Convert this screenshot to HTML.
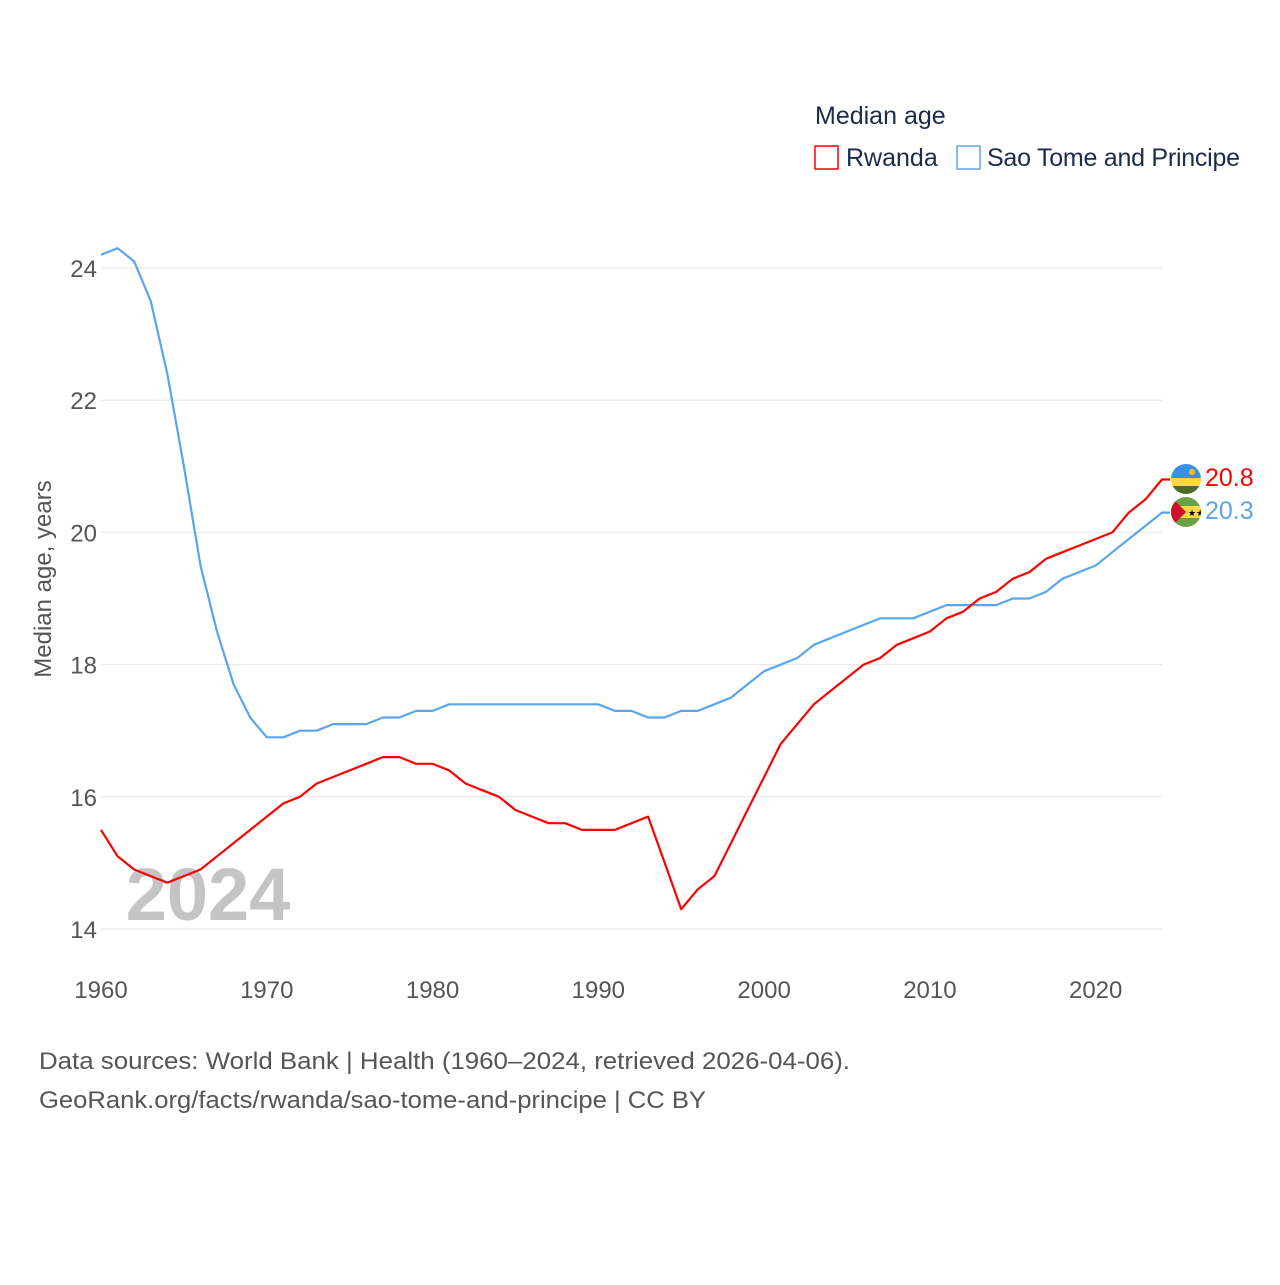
<!DOCTYPE html>
<html><head><meta charset="utf-8"><style>
body{margin:0;background:#fff;font-family:"Liberation Sans",sans-serif}
</style></head><body>
<svg width="1280" height="1280" viewBox="0 0 1280 1280" xmlns="http://www.w3.org/2000/svg" font-family="Liberation Sans, sans-serif">
<rect width="1280" height="1280" fill="#fff"/>
<g id="grid"></g>
<text x="208" y="920" font-size="74" font-weight="bold" fill="#c4c4c4" text-anchor="middle">2024</text>
<g id="yticks"></g><g id="xticks"></g>
<text transform="translate(51,579) rotate(-90)" font-size="24" fill="#555" text-anchor="middle">Median age, years</text>
<g id="series"></g>
<text x="815" y="124" font-size="25" fill="#1a2b4c">Median age</text>
<g><rect x="815" y="146" width="23" height="23" fill="none" stroke="#ff0000" stroke-width="1.5"/><text x="846" y="166" font-size="25" fill="#1a2b4c">Rwanda</text></g>
<g><rect x="957" y="146" width="23" height="23" fill="none" stroke="#5aa5ee" stroke-width="1.5"/><text x="987" y="166" font-size="25" fill="#1a2b4c" textLength="253">Sao Tome and Principe</text></g>
<g>
<clipPath id="c1"><circle cx="1186" cy="479" r="15"/></clipPath>
<g clip-path="url(#c1)"><rect x="1170" y="463" width="32" height="16" fill="#3a8fe8"/><rect x="1170" y="478" width="32" height="8" fill="#fad745"/><rect x="1170" y="486" width="32" height="10" fill="#4a6b2a"/><circle cx="1192" cy="472" r="3" fill="#f5c400"/></g></g>
<g>
<clipPath id="c2"><circle cx="1186" cy="512" r="15"/></clipPath>
<g clip-path="url(#c2)"><rect x="1170" y="496" width="32" height="32" fill="#6ba043"/><rect x="1170" y="506" width="32" height="12" fill="#fad745"/><polygon points="1170,496 1186,512 1170,528" fill="#d0102a"/><text x="1188" y="516" font-size="9">★★</text></g></g>
<text x="1205" y="486" font-size="25" fill="#ff0000">20.8</text>
<text x="1205" y="519" font-size="25" fill="#5aa5ee">20.3</text>
<text x="39" y="1069" font-size="24" fill="#555" textLength="811" lengthAdjust="spacingAndGlyphs">Data sources: World Bank | Health (1960–2024, retrieved 2026-04-06).</text>
<text x="39" y="1108" font-size="24" fill="#555" textLength="667" lengthAdjust="spacingAndGlyphs">GeoRank.org/facts/rwanda/sao-tome-and-principe | CC BY</text>
</svg>
<script>
const years=[];for(let y=1960;y<=2024;y++)years.push(y);
const rwanda=[15.5,15.1,14.9,14.8,14.7,14.8,14.9,15.1,15.3,15.5,15.7,15.9,16.0,16.2,16.3,16.4,16.5,16.6,16.6,16.5,16.5,16.4,16.2,16.1,16.0,15.8,15.7,15.6,15.6,15.5,15.5,15.5,15.6,15.7,15.0,14.3,14.6,14.8,15.3,15.8,16.3,16.8,17.1,17.4,17.6,17.8,18.0,18.1,18.3,18.4,18.5,18.7,18.8,19.0,19.1,19.3,19.4,19.6,19.7,19.8,19.9,20.0,20.3,20.5,20.8];
const saoTome=[24.2,24.3,24.1,23.5,22.4,21.0,19.5,18.5,17.7,17.2,16.9,16.9,17.0,17.0,17.1,17.1,17.1,17.2,17.2,17.3,17.3,17.4,17.4,17.4,17.4,17.4,17.4,17.4,17.4,17.4,17.4,17.3,17.3,17.2,17.2,17.3,17.3,17.4,17.5,17.7,17.9,18.0,18.1,18.3,18.4,18.5,18.6,18.7,18.7,18.7,18.8,18.9,18.9,18.9,18.9,19.0,19.0,19.1,19.3,19.4,19.5,19.7,19.9,20.1,20.3];
const yTicks=[14,16,18,20,22,24];
const xTicks=[1960,1970,1980,1990,2000,2010,2020];
const NS="http://www.w3.org/2000/svg";
const X=v=>101+(v-1960)*(1162-101)/64;
const Y=v=>929-(v-14)*(929-268)/10;
function mk(tag,attrs,parent){const e=document.createElementNS(NS,tag);for(const k in attrs)e.setAttribute(k,attrs[k]);parent.appendChild(e);return e;}
const grid=document.getElementById('grid'),yt=document.getElementById('yticks'),xt=document.getElementById('xticks'),ser=document.getElementById('series');
yTicks.forEach(t=>{
 const l=mk('line',{x1:101,x2:1162,y1:Y(t),y2:Y(t),stroke:'#e6e6e6','stroke-width':1},grid);
 
 
 const tx=mk('text',{x:97,y:Y(t)+9,'font-size':24,fill:'#555','text-anchor':'end'},yt);tx.textContent=t;
 
 
});
xTicks.forEach(t=>{
 const tx=mk('text',{x:X(t),y:998,'font-size':24,fill:'#555','text-anchor':'middle'},xt);tx.textContent=t;
 
 
});
function line(vals,color,name){
 const d=vals.map((v,i)=>(i?'L':'M')+X(years[i]).toFixed(1)+','+Y(v).toFixed(1)).join('')+'H'+(X(2024)+8);
 const p=mk('path',{d:d,fill:'none',stroke:color,'stroke-width':2.2,'stroke-linejoin':'round'},ser);
 
 
}
line(saoTome,'#5aa5ee','line-sao-tome');
line(rwanda,'#ff0000','line-rwanda');
</script>
</body></html>
